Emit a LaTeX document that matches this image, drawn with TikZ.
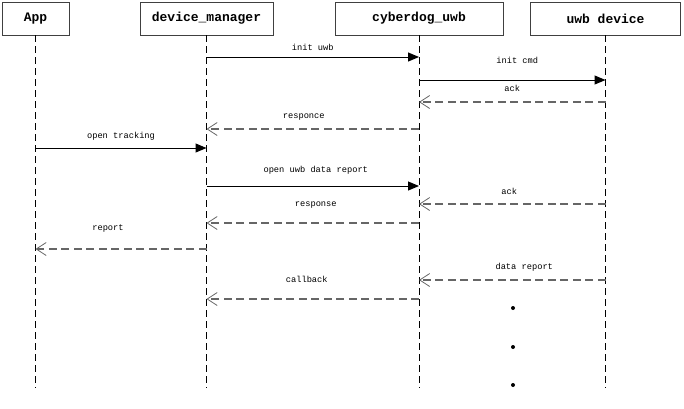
\documentclass[tikz,border=0pt]{standalone}
\usepackage{fontspec}
\setmonofont{Liberation Mono}
\usetikzlibrary{arrows.meta}

\tikzset{
  actor/.style={draw=black!75, line width=0.9pt, minimum height=33, inner sep=0pt,
    font=\ttfamily\bfseries\fontsize{13}{15}\selectfont},
  lifeline/.style={draw=black, line width=0.9pt, dash pattern=on 7pt off 4pt},
  call/.style={draw=black, line width=1pt, -{Triangle[length=11pt,width=9pt]}},
  reply/.style={draw=black!60, line width=1.4pt, dash pattern=on 8pt off 4.5pt,
    -{Straight Barb[length=10pt,width=13pt,line width=0.8pt]}},
  msg/.style={font=\ttfamily\fontsize{8.7}{10}\selectfont, inner sep=0pt},
}

\begin{document}
\begin{tikzpicture}[x=1pt,y=-1pt]
  \useasboundingbox (0,0) rectangle (684,408);
  % participants
  \node[actor, minimum width=67] (app) at (35.5,18.5) {App};
  \node[actor, minimum width=133] (dm) at (206.5,18.5) {device\_manager};
  \node[actor, minimum width=168] (cu) at (419,18.5) {cyberdog\_uwb};
  \node[actor, minimum width=150] (dev) at (605.5,18.5) {uwb device};
  \foreach \n in {app,dm,cu,dev}
    \draw[lifeline] (\n.south) -- ++(0,353);
  % messages
  \draw[call] (dm |- 0,57) -- node[msg, yshift=10] {init uwb} (cu |- 0,57);
  \draw[call] (cu |- 0,80) -- node[msg, xshift=5, yshift=20] {init cmd} (dev |- 0,80);
  \draw[reply] (dev |- 0,102) -- node[msg, yshift=14] {ack} (cu |- 0,102);
  \draw[reply] (cu |- 0,129) -- node[msg, xshift=-9, yshift=12] {responce} (dm |- 0,129);
  \draw[call] (app |- 0,148) -- node[msg, yshift=12] {open tracking} (dm |- 0,148);
  \draw[call] (dm |- 0,186) -- node[msg, xshift=3, yshift=16] {open uwb data report} (cu |- 0,186);
  \draw[reply] (dev |- 0,204) -- node[msg, xshift=-3, yshift=13] {ack} (cu |- 0,204);
  \draw[reply] (cu |- 0,223) -- node[msg, xshift=3, yshift=18] {response} (dm |- 0,223);
  \draw[reply] (dm |- 0,249) -- node[msg, xshift=-13, yshift=21] {report} (app |- 0,249);
  \draw[reply] (dev |- 0,280) -- node[msg, xshift=12, yshift=13] {data report} (cu |- 0,280);
  \draw[reply] (cu |- 0,299) -- node[msg, xshift=-6, yshift=20] {callback} (dm |- 0,299);
  % more to come
  \foreach \y in {308,347,385}
    \fill (513,\y) circle (2);
\end{tikzpicture}
\end{document}
